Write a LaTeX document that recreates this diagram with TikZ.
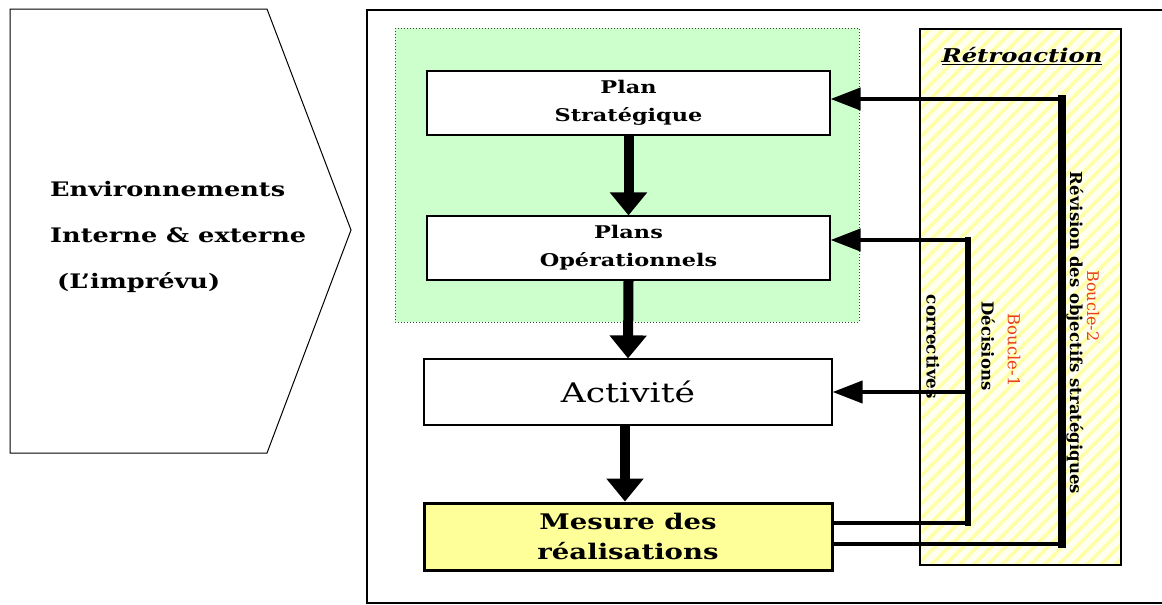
\documentclass[tikz,border=0pt]{standalone}
\usepackage{fontspec}
\setmainfont[FakeStretch=1.28]{DejaVu Serif}
\newfontfamily\narrowserif{DejaVu Serif}
\usetikzlibrary{arrows.meta,patterns.meta}
\definecolor{greenbg}{HTML}{CCFFCC}
\definecolor{mesurey}{HTML}{FFFF99}
\definecolor{hatchy}{HTML}{FFFFA6}
\definecolor{retrobg}{HTML}{FFFFF0}
\definecolor{boucred}{HTML}{E8401C}
\begin{document}
\begin{tikzpicture}[x=1pt,y=-1pt,
  box/.style={draw=black, line width=1.2pt, fill=white, minimum width=403pt, minimum height=64pt, inner sep=0pt, align=center, font=\fontsize{17.5}{28}\selectfont\bfseries},
  down/.style={line width=10pt, -{Triangle[length=23pt,width=36pt]}},
  fb/.style={line width=4pt, line join=miter},
  fbarrow/.style={line width=4pt, -{Triangle[length=30pt,width=22pt]}},
  rot/.style={rotate=-90, inner sep=0pt},
  envtext/.style={anchor=west, align=left, inner sep=0pt, font=\fontsize{20}{46}\selectfont\bfseries},
]
\fill[white] (0,0) rectangle (1162,605);
\useasboundingbox (0,0) rectangle (1162,605);

% outer frame
\draw[line width=2.2pt] (1162,10) -- (367,10) -- (367,603) -- (1162,603);

% environment pentagon
\draw[line width=1pt, fill=white] (10,9) -- (267,9) -- (351,230) -- (267,453) -- (10,453) -- cycle;
\node[envtext] (env) at (50,237) {Environnements\\Interne \& externe\\\hspace*{7pt}(L'imprévu)};

% green planning region
\draw[fill=greenbg, draw=black!75, dotted, line width=1pt] (395,28) rectangle (859,322);

% Retroaction region
\fill[retrobg] (920,29) rectangle (1121,565);
\fill[pattern={Lines[angle=45,distance=10pt,line width=3.5pt]}, pattern color=hatchy] (920,29) rectangle (1121,565);
\draw[line width=2.5pt] (920,29) rectangle (1121,565);
\node[font=\fontsize{19}{20}\selectfont\bfseries\itshape] (retro) at (1022,56) {\underline{Rétroaction}};

% boxes
\node[box] (plan) at (628.5,103) {Plan\\Stratégique};
\node[box] (plans) at (628.5,248) {Plans\\Opérationnels};
\node[box, font=\fontsize{27}{30}\selectfont, minimum width=408pt, minimum height=66pt] (act) at (628,392) {Activité};
\node[box, fill=mesurey, line width=3pt, font=\fontsize{21.5}{30}\selectfont\bfseries, minimum width=408pt, minimum height=67pt] (mes) at (628,536.5) {Mesure des\\réalisations};

% downward arrows
\draw[down] (plan.south) -- (plans.north);
\draw[down] (plans.south) -- (act.north);
\draw[down] ([xshift=-3pt]act.south) -- ([xshift=-3pt]mes.north);

% feedback loops
\coordinate (k1) at (968,523);
\coordinate (k1t) at (968,240);
\coordinate (k1m) at (968,392);
\coordinate (k2) at (1062,544);
\coordinate (k2t) at (1062,99);
\draw[fb] (mes.east |- k1) -- (k1);
\draw[fb] (mes.east |- k2) -- (k2);
\draw[line width=6.5pt, line cap=rect] (k1) -- (k1t);
\draw[line width=8pt, line cap=rect] (k2) -- (k2t);
\draw[fbarrow] (k1t) -- (plans.east |- k1t);
\draw[fbarrow] (k1m) -- (act.east |- k1m);
\draw[fbarrow] (k2t) -- (plan.east |- k2t);

% rotated labels
\node[rot, font=\narrowserif\fontsize{16.5}{16}\selectfont\bfseries] (rev) at (1075,333) {Révision des objectifs stratégiques};
\node[rot, text=boucred, font=\narrowserif\fontsize{16}{16}\selectfont] (b2) at (1093,306) {Boucle-2};
\node[rot, font=\narrowserif\fontsize{16.5}{16}\selectfont\bfseries] (dec) at (988,346) {Décisions};
\node[rot, text=boucred, font=\narrowserif\fontsize{16.5}{16}\selectfont] (b1) at (1014,350) {Boucle-1};
\node[rot, font=\narrowserif\fontsize{16.8}{16}\selectfont\bfseries] (corr) at (933,347) {correctives};
\end{tikzpicture}
\end{document}
